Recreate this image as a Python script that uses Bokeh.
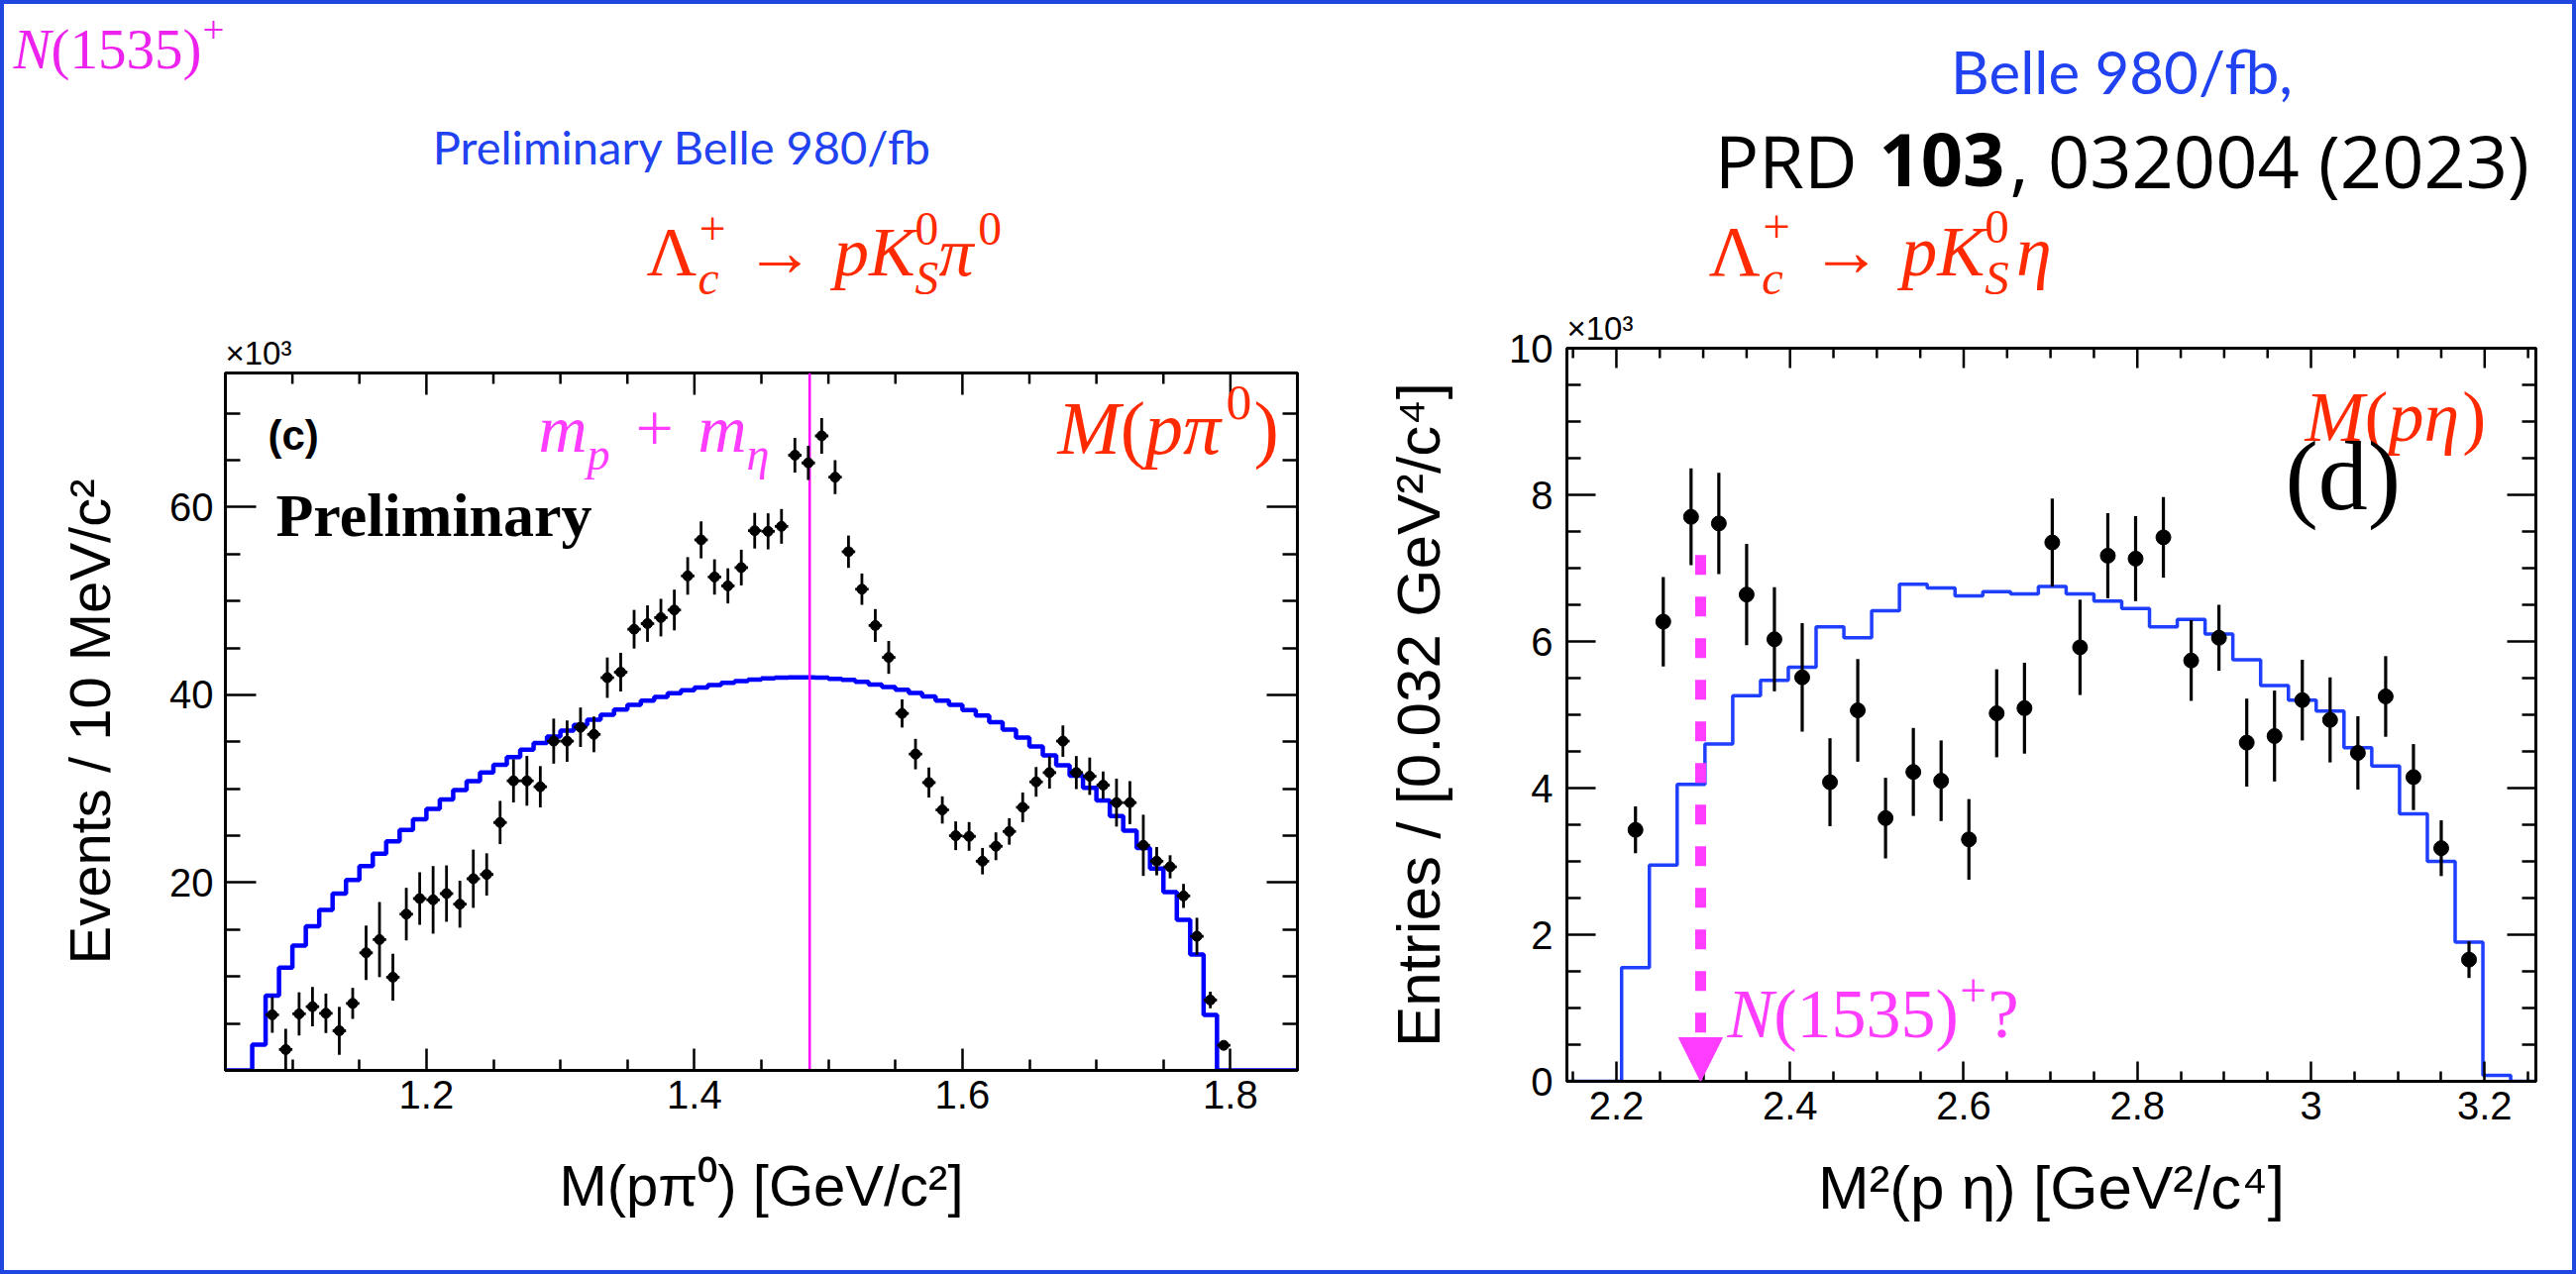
import numpy as np
from bokeh.plotting import figure
from bokeh.models import (Range1d, LinearAxis, FixedTicker, CustomJSTickFormatter, Label,
                          Arrow, NormalHead, Title)
from bokeh.layouts import row, column
from bokeh.embed import file_html
from bokeh.resources import INLINE

# ---------------- data : left panel  M(p pi0) ----------------
left_bin_start = 1.05
left_bin_width = 0.01
left_fit = [0, 0, 2.75, 7.96, 10.95, 13.31, 15.35, 17.11, 18.84, 20.29,
            21.76, 23.1, 24.41, 25.63, 26.76, 27.85, 28.87, 29.86, 30.81, 31.73,
            32.57, 33.39, 34.16, 34.87, 35.56, 36.2, 36.8, 37.35, 37.9, 38.45,
            38.95, 39.4, 39.8, 40.18, 40.5, 40.8, 41.06, 41.3, 41.48, 41.64,
            41.76, 41.84, 41.88, 41.88, 41.84, 41.72, 41.6, 41.4, 41.12, 40.85,
            40.55, 40.22, 39.85, 39.4, 38.95, 38.4, 37.8, 37.1, 36.3, 35.45,
            34.5, 33.55, 32.5, 31.4, 30.1, 28.75, 27.1, 25.55, 23.7, 21.5,
            19.0, 16.05, 12.35, 5.9, 0, 0, 0, 0, 0, 0]
left_first_center = 1.085
left_counts = [5.92, 2.22, 6.02, 6.79, 6.09, 4.22, 7.14, 12.53, 13.94, 9.93,
               16.65, 18.31, 18.17, 18.84, 17.71, 20.42, 20.88, 26.41, 30.85, 30.85,
               30.22, 35.08, 35.08, 36.56, 35.8, 41.84, 42.43, 47.0, 47.6, 48.24,
               49.05, 52.68, 56.52, 52.57, 51.62, 53.57, 57.5, 57.43, 57.96, 65.54,
               64.72, 67.6, 63.2, 55.26, 51.27, 47.4, 44.0, 38.03, 33.7, 30.67,
               27.75, 25.0, 24.93, 22.29, 23.88, 25.46, 28.03, 30.74, 31.73, 35.08,
               31.73, 31.34, 30.39, 28.53, 28.53, 23.98, 22.29, 21.69, 18.59, 14.29,
               7.5, 2.67]
left_errors = [1.9, 2.2, 2.3, 2.1, 2.1, 2.55, 1.65, 2.9, 4.0, 2.5,
               2.8, 2.8, 3.6, 3.0, 2.5, 3.1, 2.25, 2.3, 2.3, 2.65,
               2.2, 2.4, 2.2, 2.1, 1.9, 2.15, 2.06, 2.06, 1.94, 2.0,
               2.17, 2.0, 1.97, 1.88, 1.87, 1.9, 1.9, 1.92, 1.85, 1.85,
               1.81, 1.9, 1.8, 1.72, 1.67, 1.75, 1.75, 1.5, 1.62, 1.6,
               1.45, 1.53, 1.53, 1.41, 1.48, 1.41, 1.58, 1.58, 1.7, 1.67,
               1.76, 1.99, 1.46, 2.55, 2.29, 3.26, 1.51, 1.23, 1.28, 1.97,
               0.88, 0.4]
threshold_p_eta = 1.486  # m_p + m_eta  [GeV]

# ---------------- data : right panel  M^2(p eta) ----------------
right_bin_start = 2.142
right_bin_width = 0.032
right_fit = [0, 0, 1.55, 2.95, 4.05, 4.6, 5.26, 5.47, 5.65, 6.2,
             6.05, 6.42, 6.78, 6.73, 6.62, 6.68, 6.65, 6.75, 6.65, 6.55,
             6.45, 6.2, 6.3, 6.1, 5.75, 5.4, 5.2, 5.05, 4.55, 4.3,
             3.65, 3.0, 1.9, 0.08, 0]
right_first_center = 2.222
right_counts = [3.43, 6.27, 7.70, 7.61, 6.64, 6.03, 5.51, 4.08, 5.06, 3.59,
                4.22, 4.10, 3.30, 5.02, 5.09, 7.35, 5.92, 7.17, 7.13, 7.42,
                5.74, 6.05, 4.62, 4.71, 5.20, 4.93, 4.48, 5.25, 4.15, 3.18, 1.66]
right_errors = [0.32, 0.61, 0.66, 0.69, 0.69, 0.71, 0.74, 0.6, 0.7, 0.55,
                0.6, 0.55, 0.55, 0.6, 0.62, 0.6, 0.65, 0.58, 0.58, 0.55,
                0.55, 0.45, 0.6, 0.62, 0.55, 0.58, 0.5, 0.55, 0.45, 0.38, 0.25]
n1535_arrow_x = 2.297
n1535_arrow_top = 7.18

# tick definitions
left_x_major = [1.2, 1.4, 1.6, 1.8]
left_y_major = [20, 40, 60]
right_x_major = [2.2, 2.4, 2.6, 2.8, 3.0, 3.2]
right_y_major = [0, 2, 4, 6, 8, 10]

# ---------------- styling ----------------
RED = "#ff2a00"
MAG = "#ff3cff"
MAG_TOP = "#ee22ee"
BLUE_TXT = "#2142f0"
BORDER_BLUE = "#1f46e0"
SANS = "Liberation Sans"
SERIF = "Liberation Serif"
HEAD = "Lato"
PRDF = "Open Sans"
BORDER = 4
PAGE_W, PAGE_H = 2600, 1286
HEADER_BOTTOM = 308     # page y where the panel figures start
SPLIT = 1370
SHIFT = {SERIF: 0.36, HEAD: 0.36, SANS: 0.30, PRDF: 0.28}   # baseline correction (em)

# page geometry of the two frames (page pixels)
LF = dict(L=227, R=1309, T=376, B=1080, x0=1.05, x1=1.85, y0=0.0, y1=74.3)
RF = dict(L=1581, R=2559, T=351, B=1091, x0=2.143, x1=3.259, y0=0.0, y1=10.0)


def conv(g):
    def fx(px):
        return g["x0"] + (px - g["L"]) / (g["R"] - g["L"]) * (g["x1"] - g["x0"])

    def fy(py):
        return g["y0"] + (g["B"] - py) / (g["B"] - g["T"]) * (g["y1"] - g["y0"])
    return fx, fy


def bare(p, fill="white"):
    p.grid.visible = False
    p.outline_line_color = None
    p.background_fill_color = fill
    p.border_fill_color = fill
    return p


def make_panel(g, page_left, page_right):
    w = page_right - page_left
    h = (PAGE_H - BORDER) - HEADER_BOTTOM
    p = figure(width=w, height=h, x_range=Range1d(g["x0"], g["x1"]),
               y_range=Range1d(g["y0"], g["y1"]), output_backend="svg",
               toolbar_location=None, x_axis_location=None, y_axis_location=None,
               title=None,
               min_border_left=g["L"] - page_left, min_border_right=page_right - g["R"],
               min_border_top=g["T"] - HEADER_BOTTOM,
               min_border_bottom=(PAGE_H - BORDER) - g["B"], frame_align=False)
    bare(p)
    p.outline_line_color = "black"
    p.outline_line_width = 3
    return p


def add_axis(p, side, major, minor, code, label=None, tin=22, tmin=11,
             lstand=10, alstand=30, alsize=58):
    ax = LinearAxis(ticker=FixedTicker(ticks=major, minor_ticks=minor),
                    formatter=CustomJSTickFormatter(code=code))
    ax.axis_line_width = 3
    ax.axis_line_color = "black"
    ax.major_tick_line_width = 2.5
    ax.minor_tick_line_width = 2.5
    ax.major_tick_in = tin
    ax.major_tick_out = 0
    ax.minor_tick_in = tmin
    ax.minor_tick_out = 0
    ax.major_label_text_font = SANS
    ax.major_label_text_font_size = "40px"
    ax.major_label_text_color = "black"
    ax.major_label_standoff = lstand
    if label:
        ax.axis_label = label
        ax.axis_label_text_font = SANS
        ax.axis_label_text_font_size = f"{alsize}px"
        ax.axis_label_text_font_style = "normal"
        ax.axis_label_text_color = "black"
        ax.axis_label_standoff = alstand
    p.add_layout(ax, side)
    return ax


def top_ticks(p, g, major, minor, tin, tmin):
    """inward ticks along the upper frame edge"""
    per_px = (g["y1"] - g["y0"]) / (g["B"] - g["T"])
    top = g["y1"]
    p.segment(x0=major, x1=major, y0=[top] * len(major), y1=[top - tin * per_px] * len(major),
              line_color="black", line_width=2.5)
    p.segment(x0=minor, x1=minor, y0=[top] * len(minor), y1=[top - tmin * per_px] * len(minor),
              line_color="black", line_width=2.5)


def x10(p, standoff):
    p.add_layout(Title(text="\u00d710\u00b3", align="left", vertical_align="bottom",
                       offset=0, standoff=standoff, text_font=SANS,
                       text_font_size="33px", text_font_style="normal",
                       text_color="black"), "above")


def put(p, fx, fy, px, py, text, font, size, color, style="normal", align="left"):
    """place a text with its baseline at page pixel (px, py)"""
    y = py - SHIFT.get(font, 0.3) * size
    p.add_layout(Label(x=fx(px), y=fy(y), text=text, text_font=font,
                       text_font_size=f"{size:.1f}px", text_color=color,
                       text_font_style=style, text_align=align,
                       text_baseline="alphabetic"))


SERIF_R = {'(': .333, ')': .333, '+': .564, '?': .444, '\u2192': 1.0,
           '\u039b': .722, ',': .25, 'c': .444}
for d in "0123456789":
    SERIF_R[d] = .5
SERIF_I = {'N': .667, 'M': .833, 'p': .5, 'K': .667, 'S': .5, 'c': .444, 'm': .722,
           '\u03c0': .55, '\u03b7': .52}
OPEN = {' ': .26, ',': .245, '/': .367, '(': .296, ')': .296, 'B': .648, 'e': .561,
        'l': .258, 'f': .342, 'b': .613, 'P': .603, 'R': .648, 'D': .729}
for d in "0123456789":
    OPEN[d] = .572


def tw(text, style, table=None):
    if table is None:
        table = SERIF_I if style == "italic" else SERIF_R
    return sum(table.get(ch, .5) for ch in text)


def rich(p, fx, fy, px, py, segs, size, color, font=SERIF):
    """segs: (text, style, scale, dy_em, advance, gap_em_before)"""
    x = px
    pending = 0.0
    for text, style, scale, dy, adv, gap in segs:
        x += gap * size
        s = size * scale
        put(p, fx, fy, x, py - dy * size, text, font, s, color, style)
        w = tw(text, style) * s
        if adv:
            x += max(w, pending)
            pending = 0.0
        else:
            pending = w


SUB, SUP, SC = -0.26, 0.45, 0.68


def reaction(last):
    segs = [("\u039b", "normal", 1, 0, True, 0), ("c", "italic", SC, SUB, False, 0.02),
            ("+", "normal", SC, SUP, True, 0.02), ("\u2192", "normal", 1, 0, True, 0.28),
            ("p", "italic", 1, 0, True, 0.28), ("K", "italic", 1, 0, True, 0),
            ("S", "italic", SC, SUB, False, 0), ("0", "normal", SC, SUP, True, 0)]
    segs += last
    return segs


def ident(v):
    return v


# ================= HEADER STRIP (page pixel coordinates) =================
hdr = figure(width=PAGE_W - 2 * BORDER, height=HEADER_BOTTOM - BORDER,
             x_range=Range1d(BORDER, PAGE_W - BORDER), y_range=Range1d(HEADER_BOTTOM, BORDER),
             output_backend="svg", toolbar_location=None, x_axis_location=None,
             y_axis_location=None, title=None, min_border_left=0, min_border_right=0,
             min_border_top=0, min_border_bottom=0, frame_align=False)
bare(hdr)

rich(hdr, ident, ident, 13, 70,
     [("N", "italic", 1, 0, True, 0), ("(1535)", "normal", 1, 0, True, 0),
      ("+", "normal", SC, SUP, True, 0.02)], 57, MAG_TOP)
put(hdr, ident, ident, 688, 164, "Preliminary Belle 980/fb", HEAD, 47, BLUE_TXT, align="center")
rich(hdr, ident, ident, 652, 279,
     reaction([("\u03c0", "italic", 1, 0, True, 0), ("0", "normal", SC, SUP, True, 0.02)]),
     70, RED)
put(hdr, ident, ident, 2141, 93, "Belle 980/fb,", HEAD, 60, BLUE_TXT, align="center")
hs = 74
w_prd = tw("PRD", "normal", OPEN) * hs
w_sp = 0.26 * hs
w_103 = tw("103", "normal", OPEN) * hs * 1.04
w_rest = tw(", 032004 (2023)", "normal", OPEN) * hs
x0 = 2141 - (w_prd + w_sp + w_103 + w_rest) / 2
put(hdr, ident, ident, x0, 182, "PRD", PRDF, hs, "black")
put(hdr, ident, ident, x0 + w_prd + w_sp, 182, "103", PRDF, hs, "black", style="bold")
put(hdr, ident, ident, x0 + w_prd + w_sp + w_103, 182, ", 032004 (2023)", PRDF, hs, "black")
rich(hdr, ident, ident, 1724, 279, reaction([("\u03b7", "italic", 1, 0, True, 0.1)]), 72, RED)

# ================= LEFT PANEL =================
pL = make_panel(LF, BORDER, SPLIT)
lfx, lfy = conv(LF)

lx_minor = [v for v in np.round(np.arange(1.10, 1.851, 0.05), 2) if v not in left_x_major]
ly_minor = [v for v in range(5, 75, 5) if v not in left_y_major]
add_axis(pL, "below", left_x_major, lx_minor, "return tick.toFixed(1)",
         "M(p\u03c0\u2070) [GeV/c\u00b2]", tin=22, tmin=11, lstand=10, alstand=42)
add_axis(pL, "left", left_y_major, ly_minor, "return tick.toFixed(0)",
         "Events / 10 MeV/c\u00b2", tin=31, tmin=15, lstand=12, alstand=45)
add_axis(pL, "right", left_y_major, ly_minor, "return ''", tin=31, tmin=15, lstand=0)
top_ticks(pL, LF, left_x_major, lx_minor, 22, 11)
x10(pL, 3)

l_edges = left_bin_start + left_bin_width * np.arange(len(left_fit) + 1)
pL.step(x=l_edges, y=list(left_fit) + [left_fit[-1]], mode="after",
        line_color="#0000ff", line_width=4.5)

pL.segment(x0=[threshold_p_eta], x1=[threshold_p_eta], y0=[LF["y0"]], y1=[LF["y1"]],
           line_color="#ff00ff", line_width=2.5)

lxc = left_first_center + left_bin_width * np.arange(len(left_counts))
ly = np.array(left_counts)
le = np.array(left_errors)
pL.segment(x0=lxc, y0=ly - le, x1=lxc, y1=ly + le, line_color="black", line_width=2.8)
pL.segment(x0=lxc - left_bin_width / 2, y0=ly, x1=lxc + left_bin_width / 2, y1=ly,
           line_color="black", line_width=2.8)
pL.scatter(x=lxc, y=ly, size=10, marker="circle", fill_color="black", line_color="black")

put(pL, lfx, lfy, 270, 452, "(c)", SANS, 42, "black", style="bold")
put(pL, lfx, lfy, 278, 542, "Preliminary", SERIF, 62, "black", style="bold")
rich(pL, lfx, lfy, 543, 457,
     [("m", "italic", 1, 0, True, 0), ("p", "italic", SC, SUB, True, 0),
      ("+", "normal", 1, 0, True, 0.38), ("m", "italic", 1, 0, True, 0.36),
      ("\u03b7", "italic", SC, SUB, True, 0)], 68, MAG)
rich(pL, lfx, lfy, 1067, 459,
     [("M", "italic", 1, 0, True, 0), ("(", "normal", 1, 0, True, 0),
      ("p", "italic", 1, 0, True, 0), ("\u03c0", "italic", 1, 0, True, 0),
      ("0", "normal", SC, SUP, True, 0.02), (")", "normal", 1, 0, True, 0.03)], 76, RED)

# ================= RIGHT PANEL =================
pR = make_panel(RF, SPLIT, PAGE_W - BORDER)
rfx, rfy = conv(RF)

rx_minor = [v for v in np.round(np.arange(2.15, 3.26, 0.05), 2)
            if not any(abs(v - m) < 1e-6 for m in right_x_major)]
ry_minor = [float(v) for v in np.arange(0.5, 10, 0.5) if v not in right_y_major]
add_axis(pR, "below", right_x_major, rx_minor, "return String(Math.round(tick*10)/10)",
         "M\u00b2(p \u03b7) [GeV\u00b2/c\u2074]", tin=20, tmin=10, lstand=10, alstand=31,
         alsize=62)
add_axis(pR, "left", right_y_major, ry_minor, "return tick.toFixed(0)",
         "Entries / [0.032 GeV\u00b2/c\u2074]", tin=29, tmin=14, lstand=14, alstand=54,
         alsize=62)
add_axis(pR, "right", right_y_major, ry_minor, "return ''", tin=29, tmin=14, lstand=0)
top_ticks(pR, RF, right_x_major, rx_minor, 20, 10)
x10(pR, 3)

r_edges = right_bin_start + right_bin_width * np.arange(len(right_fit) + 1)
pR.step(x=r_edges, y=list(right_fit) + [right_fit[-1]], mode="after",
        line_color="#1f3fff", line_width=3.5)

rxc = right_first_center + right_bin_width * np.arange(len(right_counts))
ry = np.array(right_counts)
re_ = np.array(right_errors)
pR.segment(x0=rxc, y0=ry - re_, x1=rxc, y1=ry + re_, line_color="black", line_width=3.2)
pR.scatter(x=rxc, y=ry, size=15, marker="circle", fill_color="black", line_color="black")

pR.add_layout(Arrow(end=NormalHead(size=44, fill_color=MAG, line_color=MAG, line_width=1),
                    x_start=n1535_arrow_x, y_start=n1535_arrow_top,
                    x_end=n1535_arrow_x, y_end=0.0,
                    line_color=MAG, line_width=11, line_dash="20 22"))

rich(pR, rfx, rfy, 2326, 446,
     [("M", "italic", 1, 0, True, 0), ("(", "normal", 1, 0, True, 0),
      ("p", "italic", 1, 0, True, 0), ("\u03b7", "italic", 1, 0, True, 0),
      (")", "normal", 1, 0, True, 0.02)], 72, RED)
put(pR, rfx, rfy, 2306, 516, "(d)", SERIF, 100, "black")
rich(pR, rfx, rfy, 1743, 1048,
     [("N", "italic", 1, 0, True, 0), ("(1535)", "normal", 1, 0, True, 0),
      ("+", "normal", SC, SUP, True, 0.02), ("?", "normal", 1, 0, True, 0.02)], 70, MAG)

layout = column(hdr, row(pL, pR), styles={"border": f"{BORDER}px solid {BORDER_BLUE}"})
open("out.html", "w").write(file_html(layout, INLINE))
